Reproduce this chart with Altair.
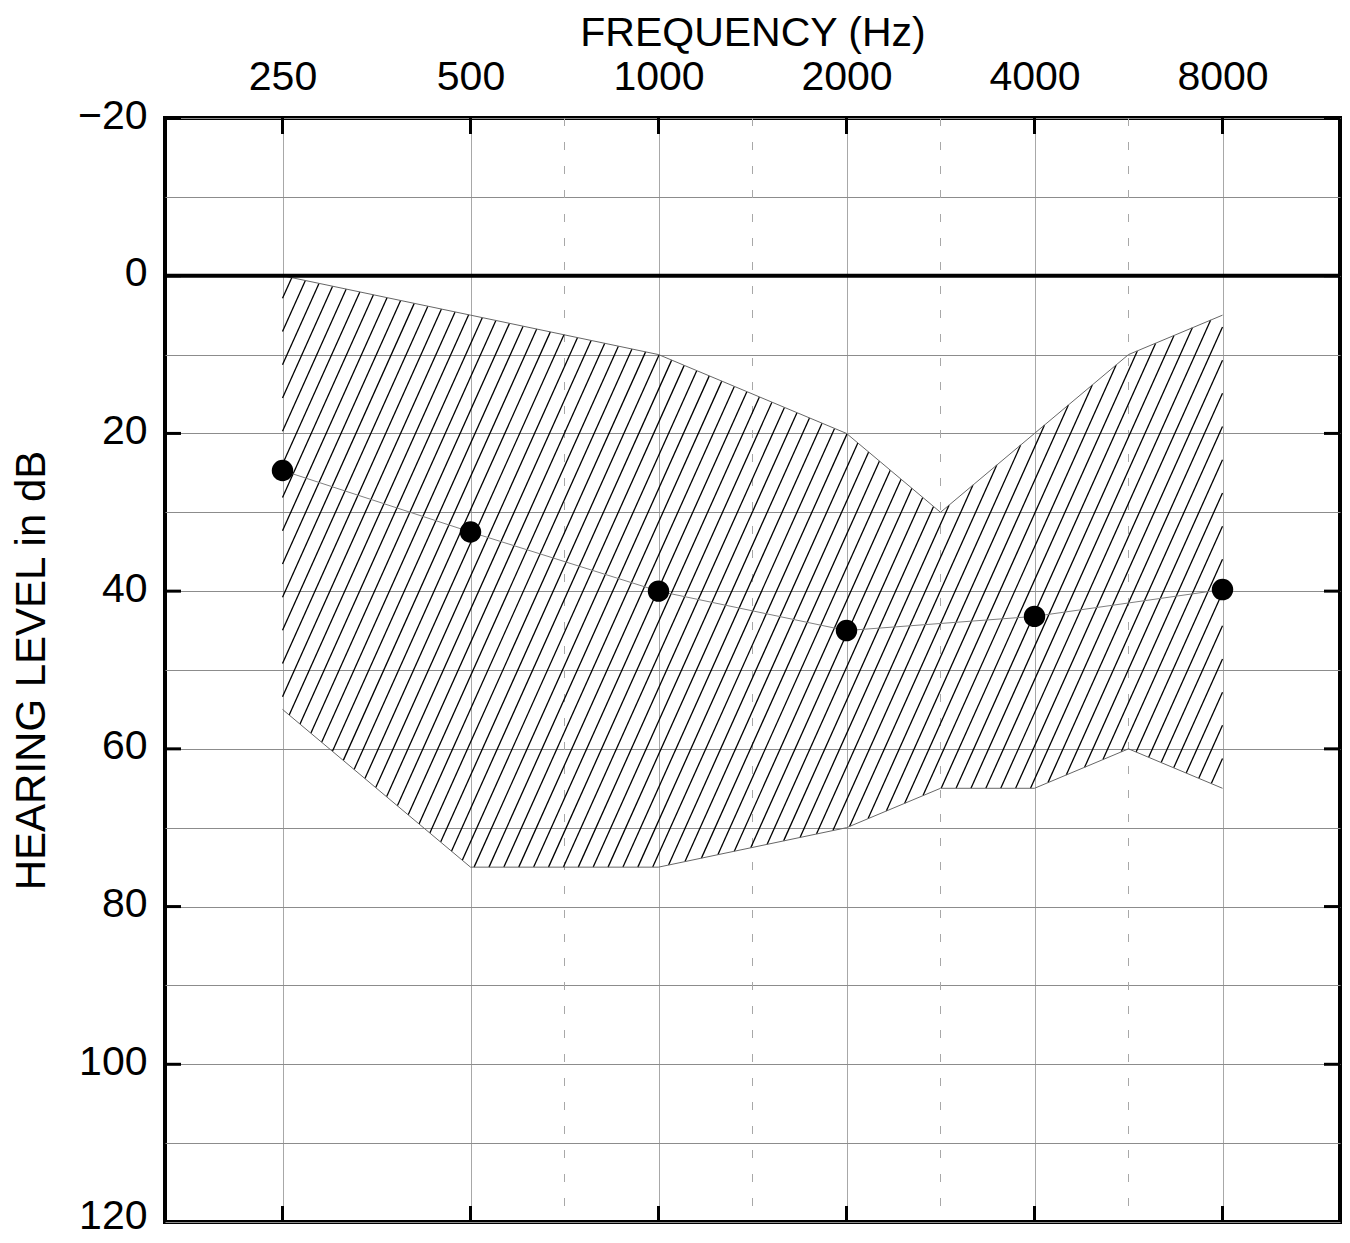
import altair as alt
import numpy as np
import pandas as pd

# ---------------- data ----------------
freq_labels = ["250", "500", "1000", "2000", "4000", "8000"]
octave_pos = [0, 1, 2, 3, 4, 5]                      # slot of each test frequency
half_octave_pos = [1.5, 2.5, 3.5, 4.5]               # 750, 1500, 3000, 6000 Hz (dashed)

threshold_db = [24.7, 32.5, 40.0, 45.0, 43.2, 39.8]  # measured points

band_pos = [0, 1, 2, 3, 3.5, 4, 4.5, 5]
band_upper = [0, 5, 10, 20, 30, 20, 10, 5]
band_lower = [55, 75, 75, 70, 65, 65, 60, 65]

db_ticks = [-20, 0, 20, 40, 60, 80, 100, 120]
db_grid = list(range(-20, 121, 10))

X_DOMAIN = [-0.625, 5.625]
Y_DOMAIN = [-20, 120]
W, H = 1175, 1104

# ---------------- hatch lines (clipped to the band) ----------------
px_oct = W / (X_DOMAIN[1] - X_DOMAIN[0])
px_db = H / (Y_DOMAIN[1] - Y_DOMAIN[0])
slope = 2.23          # pixel slope of hatch lines
spacing_v = 33.2      # vertical pixel spacing of hatch lines
phase_db = 2.87

u = np.linspace(band_pos[0], band_pos[-1], 40001)
up = np.interp(u, band_pos, band_upper)
lo = np.interp(u, band_pos, band_lower)
segs = []
for k in range(-3, 100):
    v0 = phase_db * px_db + k * spacing_v
    v = v0 - slope * u * px_oct
    db = v / px_db
    inside = ((db >= up) & (db <= lo)).astype(int)
    if inside.sum() < 2:
        continue
    d = np.diff(np.concatenate([[0], inside, [0]]))
    starts = np.where(d == 1)[0]
    ends = np.where(d == -1)[0] - 1
    for s, e in zip(starts, ends):
        if e > s:
            segs.append({"x": u[s], "y": db[s], "x2": u[e], "y2": db[e]})
hatch_df = pd.DataFrame(segs)

pts_df = pd.DataFrame({"oct": octave_pos, "db": threshold_db})
band_df = pd.DataFrame({"oct": band_pos, "up": band_upper, "lo": band_lower})
half_df = pd.DataFrame({"oct": half_octave_pos})
xt_df = pd.DataFrame([{"oct": o, "db": y} for o in octave_pos for y in Y_DOMAIN])
yt_df = pd.DataFrame([{"oct": o, "db": y} for o in X_DOMAIN for y in db_ticks])

FONT = "Liberation Sans"

xscale = alt.Scale(domain=X_DOMAIN, nice=False, zero=False)
yscale = alt.Scale(domain=Y_DOMAIN, nice=False, zero=False, reverse=True)

x_axis = alt.Axis(
    orient="top", values=octave_pos, title="FREQUENCY (Hz)",
    labelExpr="format(250*pow(2, datum.value), 'd')",
    grid=True, gridColor="#a8a8a8", gridWidth=1,
    ticks=False, domain=False, labelPadding=20, labelFontSize=41,
    titleFontSize=41, titleFontWeight="normal", titlePadding=2,
    labelFont=FONT, titleFont=FONT, labelColor="black", titleColor="black",
    labelFlush=False,
)
y_axis = alt.Axis(
    orient="left", values=db_grid, title="HEARING LEVEL in dB",
    labelExpr="datum.value % 20 === 0 ? datum.label : ''",
    grid=True, gridColor="#8c8c8c", gridWidth=1,
    ticks=False, domain=False, labelPadding=18, labelFontSize=41,
    titleFontSize=42, titleFontWeight="normal", titlePadding=24,
    labelFont=FONT, titleFont=FONT, labelColor="black", titleColor="black",
    labelFlush=False, labelBaseline="middle",
    labelOffset={"condition": {"test": "datum.value >= 120", "value": -6}, "value": -2},
)

base = alt.Chart(pts_df).mark_point(opacity=0).encode(
    x=alt.X("oct:Q", scale=xscale, axis=x_axis),
    y=alt.Y("db:Q", scale=yscale, axis=y_axis),
)

dashed = alt.Chart(half_df).mark_rule(
    stroke="#a8a8a8", strokeWidth=1, strokeDash=[8, 16]
).encode(x=alt.X("oct:Q", scale=xscale))

zero = alt.Chart(pd.DataFrame({"db": [0]})).mark_rule(
    stroke="black", strokeWidth=4
).encode(y=alt.Y("db:Q", scale=yscale))

hatch = alt.Chart(hatch_df).mark_rule(stroke="black", strokeWidth=1.3).encode(
    x=alt.X("x:Q", scale=xscale), y=alt.Y("y:Q", scale=yscale),
    x2="x2:Q", y2="y2:Q",
)

upper_line = alt.Chart(band_df).mark_line(stroke="#666666", strokeWidth=1).encode(
    x=alt.X("oct:Q", scale=xscale), y=alt.Y("up:Q", scale=yscale)
)
lower_line = alt.Chart(band_df).mark_line(stroke="#666666", strokeWidth=1).encode(
    x=alt.X("oct:Q", scale=xscale), y=alt.Y("lo:Q", scale=yscale)
)

conn = alt.Chart(pts_df).mark_line(stroke="#808080", strokeWidth=1).encode(
    x=alt.X("oct:Q", scale=xscale), y=alt.Y("db:Q", scale=yscale)
)
pts = alt.Chart(pts_df).mark_circle(size=460, color="black", opacity=1).encode(
    x=alt.X("oct:Q", scale=xscale), y=alt.Y("db:Q", scale=yscale)
)

xticks = alt.Chart(xt_df).mark_tick(
    orient="vertical", size=32, thickness=3, color="black", clip=True, opacity=1
).encode(x=alt.X("oct:Q", scale=xscale), y=alt.Y("db:Q", scale=yscale))
yticks = alt.Chart(yt_df).mark_tick(
    orient="horizontal", size=32, thickness=3, color="black", clip=True, opacity=1
).encode(x=alt.X("oct:Q", scale=xscale), y=alt.Y("db:Q", scale=yscale))

chart = alt.layer(
    base, dashed, hatch, upper_line, lower_line, conn, zero, pts, xticks, yticks
).properties(
    width=W, height=H,
    background="white",
    autosize=alt.AutoSizeParams(type="none"),
    padding={"left": 157, "top": 110, "right": 2, "bottom": 13},
).configure_view(
    stroke="black", strokeWidth=4
)

chart.save("out.html", embed_options={"renderer": "svg", "actions": False})
